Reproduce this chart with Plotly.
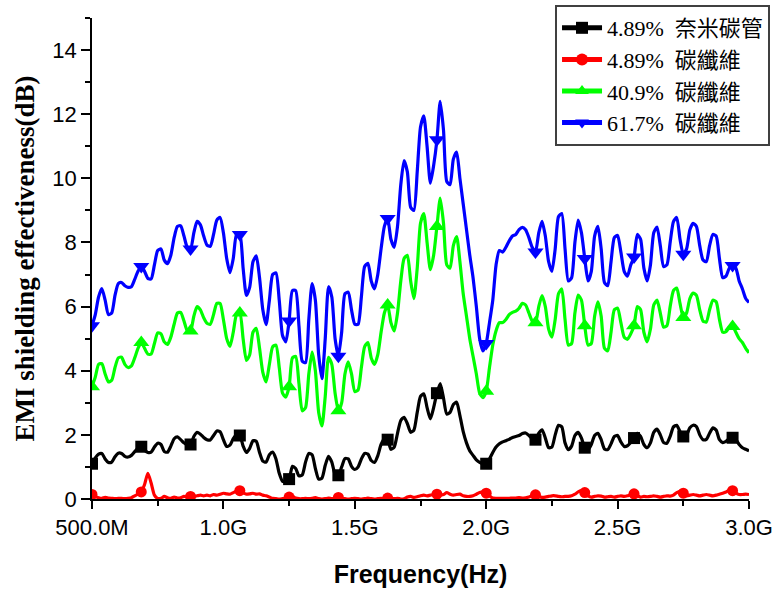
import numpy as np
import plotly.graph_objects as go

# Frequency sweep: 201 points from 0.5 GHz to 3.0 GHz
freq_ghz = np.linspace(0.5, 3.0, 201)

series_names = ["4.89%\u00a0\u00a0奈米碳管", "4.89%\u00a0\u00a0碳纖維", "40.9%\u00a0\u00a0碳纖維", "61.7%\u00a0\u00a0碳纖維"]

cnt_489 = [
    1.10, 1.28, 1.40, 1.42, 1.25, 1.14, 1.15, 1.32, 1.43, 1.42,
    1.33, 1.31, 1.36, 1.48, 1.58, 1.63, 1.52, 1.45, 1.46, 1.62,
    1.74, 1.70, 1.48, 1.46, 1.65, 1.88, 1.94, 1.85, 1.75, 1.68,
    1.70, 1.95, 2.08, 2.02, 1.92, 1.85, 1.84, 1.98, 2.12, 2.10,
    1.85, 1.64, 1.68, 1.88, 2.00, 1.98, 1.65, 1.45, 1.58, 1.82,
    1.80, 1.45, 1.18, 1.15, 1.38, 1.46, 1.25, 0.80, 0.55, 0.56,
    0.62, 1.02, 0.95, 0.72, 0.75, 1.15, 1.42, 1.38, 0.95, 0.62,
    0.65, 1.05, 1.33, 1.15, 0.78, 0.74, 1.00, 1.26, 1.25, 1.02,
    0.92, 1.00, 1.25, 1.42, 1.40, 1.20, 1.14, 1.35, 1.70, 1.88,
    1.85, 1.55, 1.62, 2.05, 2.45, 2.55, 2.35, 2.08, 2.15, 2.70,
    3.20, 3.28, 2.85, 2.50, 2.85, 3.30, 3.60, 3.15, 2.65, 2.70,
    2.95, 3.02, 2.60, 2.10, 1.75, 1.50, 1.36, 1.22, 1.14, 1.10,
    1.10, 1.25, 1.45, 1.62, 1.72, 1.78, 1.82, 1.86, 1.92, 1.95,
    1.98, 2.04, 2.06, 1.98, 1.88, 1.85, 2.05, 2.16, 1.90, 1.60,
    1.62, 2.00, 2.30, 2.25, 1.75, 1.54, 1.65, 1.98, 2.08, 1.90,
    1.60, 1.54, 1.70, 1.98, 2.05, 1.85, 1.56, 1.54, 1.72, 1.95,
    1.98, 1.78, 1.64, 1.66, 1.76, 1.90, 2.05, 1.95, 1.70, 1.60,
    1.75, 2.08, 2.18, 2.00, 1.76, 1.74, 1.95, 2.25, 2.30, 2.10,
    1.95, 2.00, 2.22, 2.30, 2.26, 2.00, 1.85, 1.86, 2.05, 2.22,
    2.15, 1.85, 1.76, 1.80, 1.88, 1.91, 1.85, 1.70, 1.60, 1.55,
    1.50,
]

cf_489 = [
    0.14, 0.08, 0.04, 0.02, 0.05, 0.03, 0.02, 0.01, 0.02, 0.02,
    0.01, 0.02, 0.04, 0.10, 0.15, 0.22, 0.45, 0.80, 0.50, 0.12,
    0.02, 0.02, 0.08, 0.04, 0.02, 0.06, 0.03, 0.04, 0.08, 0.06,
    0.08, 0.08, 0.10, 0.12, 0.10, 0.12, 0.10, 0.14, 0.12, 0.15,
    0.18, 0.16, 0.15, 0.20, 0.24, 0.26, 0.20, 0.15, 0.16, 0.18,
    0.15, 0.16, 0.12, 0.10, 0.06, 0.02, 0.01, 0.00, 0.01, 0.02,
    0.06, 0.08, 0.03, 0.01, 0.01, 0.02, 0.01, 0.02, 0.04, 0.01,
    0.00, 0.01, 0.03, 0.01, 0.02, 0.05, 0.02, 0.01, 0.00, 0.01,
    0.02, 0.01, 0.00, 0.01, 0.03, 0.01, 0.00, 0.01, 0.02, 0.01,
    0.03, 0.02, 0.01, 0.02, 0.00, 0.01, 0.06, 0.08, 0.05, 0.07,
    0.10, 0.12, 0.10, 0.12, 0.14, 0.15, 0.12, 0.14, 0.20, 0.15,
    0.12, 0.14, 0.15, 0.10, 0.08, 0.08, 0.10, 0.15, 0.20, 0.22,
    0.18, 0.10, 0.03, 0.02, 0.02, 0.02, 0.02, 0.02, 0.03, 0.03,
    0.04, 0.03, 0.04, 0.06, 0.10, 0.13, 0.08, 0.05, 0.06, 0.08,
    0.10, 0.10, 0.08, 0.07, 0.08, 0.08, 0.10, 0.15, 0.22, 0.26,
    0.20, 0.10, 0.06, 0.08, 0.10, 0.09, 0.06, 0.07, 0.08, 0.06,
    0.08, 0.10, 0.08, 0.10, 0.14, 0.16, 0.10, 0.06, 0.08, 0.07,
    0.08, 0.10, 0.08, 0.06, 0.08, 0.10, 0.09, 0.12, 0.20, 0.24,
    0.18, 0.10, 0.12, 0.14, 0.12, 0.10, 0.12, 0.14, 0.12, 0.10,
    0.12, 0.15, 0.18, 0.22, 0.28, 0.26, 0.18, 0.14, 0.14, 0.15,
    0.14,
]

cf_409 = [
    3.50, 3.80, 4.20, 4.22, 3.90, 3.65, 3.70, 4.10, 4.40, 4.42,
    4.20, 4.10, 4.15, 4.40, 4.70, 4.88, 4.70, 4.52, 4.52, 4.85,
    5.18, 5.15, 4.90, 4.82, 5.05, 5.45, 5.80, 5.82, 5.55, 5.25,
    5.24, 5.70, 6.00, 5.90, 5.65, 5.48, 5.45, 5.75, 6.10, 6.10,
    5.60, 5.00, 4.76, 5.20, 5.75, 5.80, 5.00, 4.32, 4.50, 5.20,
    5.32, 4.70, 3.95, 3.65, 4.20, 4.75, 4.80, 4.10, 3.30, 3.18,
    3.50, 4.40, 4.45, 3.60, 2.75, 2.85, 3.90, 4.58, 4.00, 2.70,
    2.28, 3.20, 4.42, 4.20, 3.30, 2.75, 3.00, 3.90, 4.28, 3.90,
    3.35, 3.40, 4.10, 4.75, 4.88, 4.40, 4.20, 4.50, 5.20, 5.80,
    6.05, 5.50, 5.24, 5.80, 6.80, 7.50, 7.60, 6.80, 6.25, 7.20,
    8.60, 8.90, 8.00, 7.15, 7.60, 8.50, 9.38, 8.60, 7.30, 7.20,
    7.90, 8.18, 7.40, 6.40, 5.70, 5.00, 4.45, 3.90, 3.30, 3.16,
    3.36, 4.10, 4.80, 5.25, 5.50, 5.50, 5.60, 5.75, 5.82, 5.86,
    5.95, 6.10, 6.05, 5.80, 5.55, 5.50, 6.00, 6.34, 6.00, 5.30,
    5.05, 5.60, 6.40, 6.55, 5.60, 4.80, 4.85, 5.80, 6.36, 6.20,
    5.40, 4.80, 4.85, 5.70, 6.15, 5.70, 4.70, 4.62, 5.20, 5.90,
    5.95, 5.50, 5.05, 4.98, 5.15, 5.40, 6.00, 5.90, 5.20, 4.90,
    5.30, 6.05, 6.20, 5.80, 5.36, 5.40, 6.00, 6.50, 6.58, 6.10,
    5.66, 5.80, 6.25, 6.42, 6.35, 5.90, 5.55, 5.52, 5.90, 6.20,
    6.15, 5.60, 5.20, 5.22, 5.35, 5.38, 5.20, 5.00, 4.88, 4.70,
    4.56,
]

cf_617 = [
    5.40, 5.75, 6.30, 6.56, 6.20, 5.75, 5.80, 6.35, 6.72, 6.75,
    6.65, 6.60, 6.62, 6.85, 7.10, 7.25, 7.10, 6.88, 6.86, 7.30,
    7.75, 7.80, 7.45, 7.34, 7.60, 8.15, 8.50, 8.52, 8.20, 7.85,
    7.80, 8.30, 8.66, 8.55, 8.20, 7.92, 7.88, 8.25, 8.70, 8.78,
    8.30, 7.50, 7.06, 7.50, 8.25, 8.25, 7.20, 6.35, 6.60, 7.40,
    7.58, 6.90, 5.90, 5.44, 6.20, 7.00, 7.05, 6.20, 5.10, 4.90,
    5.55, 6.50, 6.50, 5.40, 4.30, 4.25, 5.60, 6.72, 6.20, 4.50,
    3.75, 5.00, 6.62, 6.30, 5.00, 4.45, 5.20, 6.40, 6.45, 5.90,
    5.45, 5.45, 6.30, 7.25, 7.35, 6.80, 6.55, 7.00, 7.80, 8.50,
    8.75, 8.10, 7.85, 8.50, 9.80, 10.55, 10.20, 9.10, 9.00, 10.20,
    11.60, 11.95, 11.00, 9.85, 10.40, 11.20, 12.40, 11.50, 9.90, 9.80,
    10.60, 10.82, 10.00, 9.20, 8.40, 7.60, 6.90, 6.00, 5.00, 4.62,
    4.85, 5.50, 6.20, 7.30, 7.75, 7.70, 7.85, 8.05, 8.20, 8.25,
    8.40, 8.47, 8.40, 8.15, 7.85, 7.70, 8.30, 8.66, 8.20, 7.40,
    7.10, 7.80, 8.80, 8.90, 7.80, 6.80, 6.90, 8.00, 8.70, 8.30,
    7.50, 6.80, 7.10, 8.20, 8.50, 7.80, 6.75, 6.65, 7.40, 8.15,
    8.22, 7.70, 7.10, 6.95, 7.30, 7.55, 8.25, 8.10, 7.20, 6.80,
    7.30, 8.30, 8.48, 7.90, 7.25, 7.30, 8.00, 8.65, 8.78, 8.10,
    7.63, 7.80, 8.40, 8.60, 8.50, 7.90, 7.45, 7.40, 7.90, 8.25,
    8.20, 7.50, 6.90, 6.95, 7.20, 7.28, 7.20, 6.80, 6.55, 6.25,
    6.13,
]

x_tickvals = [0.5, 1.0, 1.5, 2.0, 2.5, 3.0]
x_ticktext = ["500.0M", "1.0G", "1.5G", "2.0G", "2.5G", "3.0G"]
y_tickvals = [0, 2, 4, 6, 8, 10, 12, 14]

colors = ["#000000", "#ff0000", "#00ff00", "#0000ff"]
symbols = ["square", "circle", "triangle-up", "triangle-down"]
msizes = [12, 11, 14, 14]
all_values = [cnt_489, cf_489, cf_409, cf_617]

MARK_EVERY = 15

fig = go.Figure()
for name, vals, col, sym, ms in zip(series_names, all_values, colors, symbols, msizes):
    sizes = [ms if i % MARK_EVERY == 0 else 0 for i in range(len(vals))]
    fig.add_trace(go.Scatter(
        x=freq_ghz, y=vals, name=name, mode="lines+markers",
        line=dict(color=col, width=3.2, shape="spline", smoothing=0.6),
        marker=dict(color=col, symbol=sym, size=sizes, opacity=1, line=dict(width=0)),
    ))

fig.update_layout(
    width=778, height=592,
    margin=dict(l=92, r=29, t=18, b=93, autoexpand=False),
    paper_bgcolor="white", plot_bgcolor="white",
    font=dict(family="Liberation Sans, Arial", color="black", size=22),
    legend=dict(
        x=1.032, y=1.027, xanchor="right", yanchor="top",
        bgcolor="white", bordercolor="#404040", borderwidth=2,
        font=dict(family="Liberation Serif, Noto Sans CJK TC", size=22, color="black"),
        itemsizing="constant", itemwidth=40, tracegroupgap=0,
    ),
    xaxis=dict(
        range=[0.5, 3.0], showgrid=False, zeroline=False, automargin=False,
        showline=True, linecolor="black", linewidth=1.5,
        tickvals=x_tickvals, ticktext=x_ticktext,
        ticks="outside", ticklen=8, tickwidth=1.5, tickcolor="black",
        minor=dict(ticks="outside", ticklen=5, tickwidth=1.5, tickcolor="black", dtick=0.25),
        tickfont=dict(family="Liberation Sans, Arial", size=22),
        title=dict(text="<b>Frequency(Hz)</b>", font=dict(family="Liberation Sans, Arial", size=25), standoff=26),
    ),
    yaxis=dict(
        range=[0, 15], showgrid=False, zeroline=False, automargin=False,
        showline=True, linecolor="black", linewidth=1.5,
        tickvals=y_tickvals,
        ticks="outside", ticklen=9, tickwidth=1.5, tickcolor="black",
        minor=dict(ticks="outside", ticklen=5, tickwidth=1.5, tickcolor="black", dtick=1),
        tickfont=dict(family="Liberation Sans, Arial", size=22),
        title=dict(text="<b>EMI shielding effectiveness(dB)</b>", font=dict(family="Liberation Serif, Times New Roman", size=27), standoff=10),
    ),
    showlegend=True,
)

fig.write_html("out.html")
